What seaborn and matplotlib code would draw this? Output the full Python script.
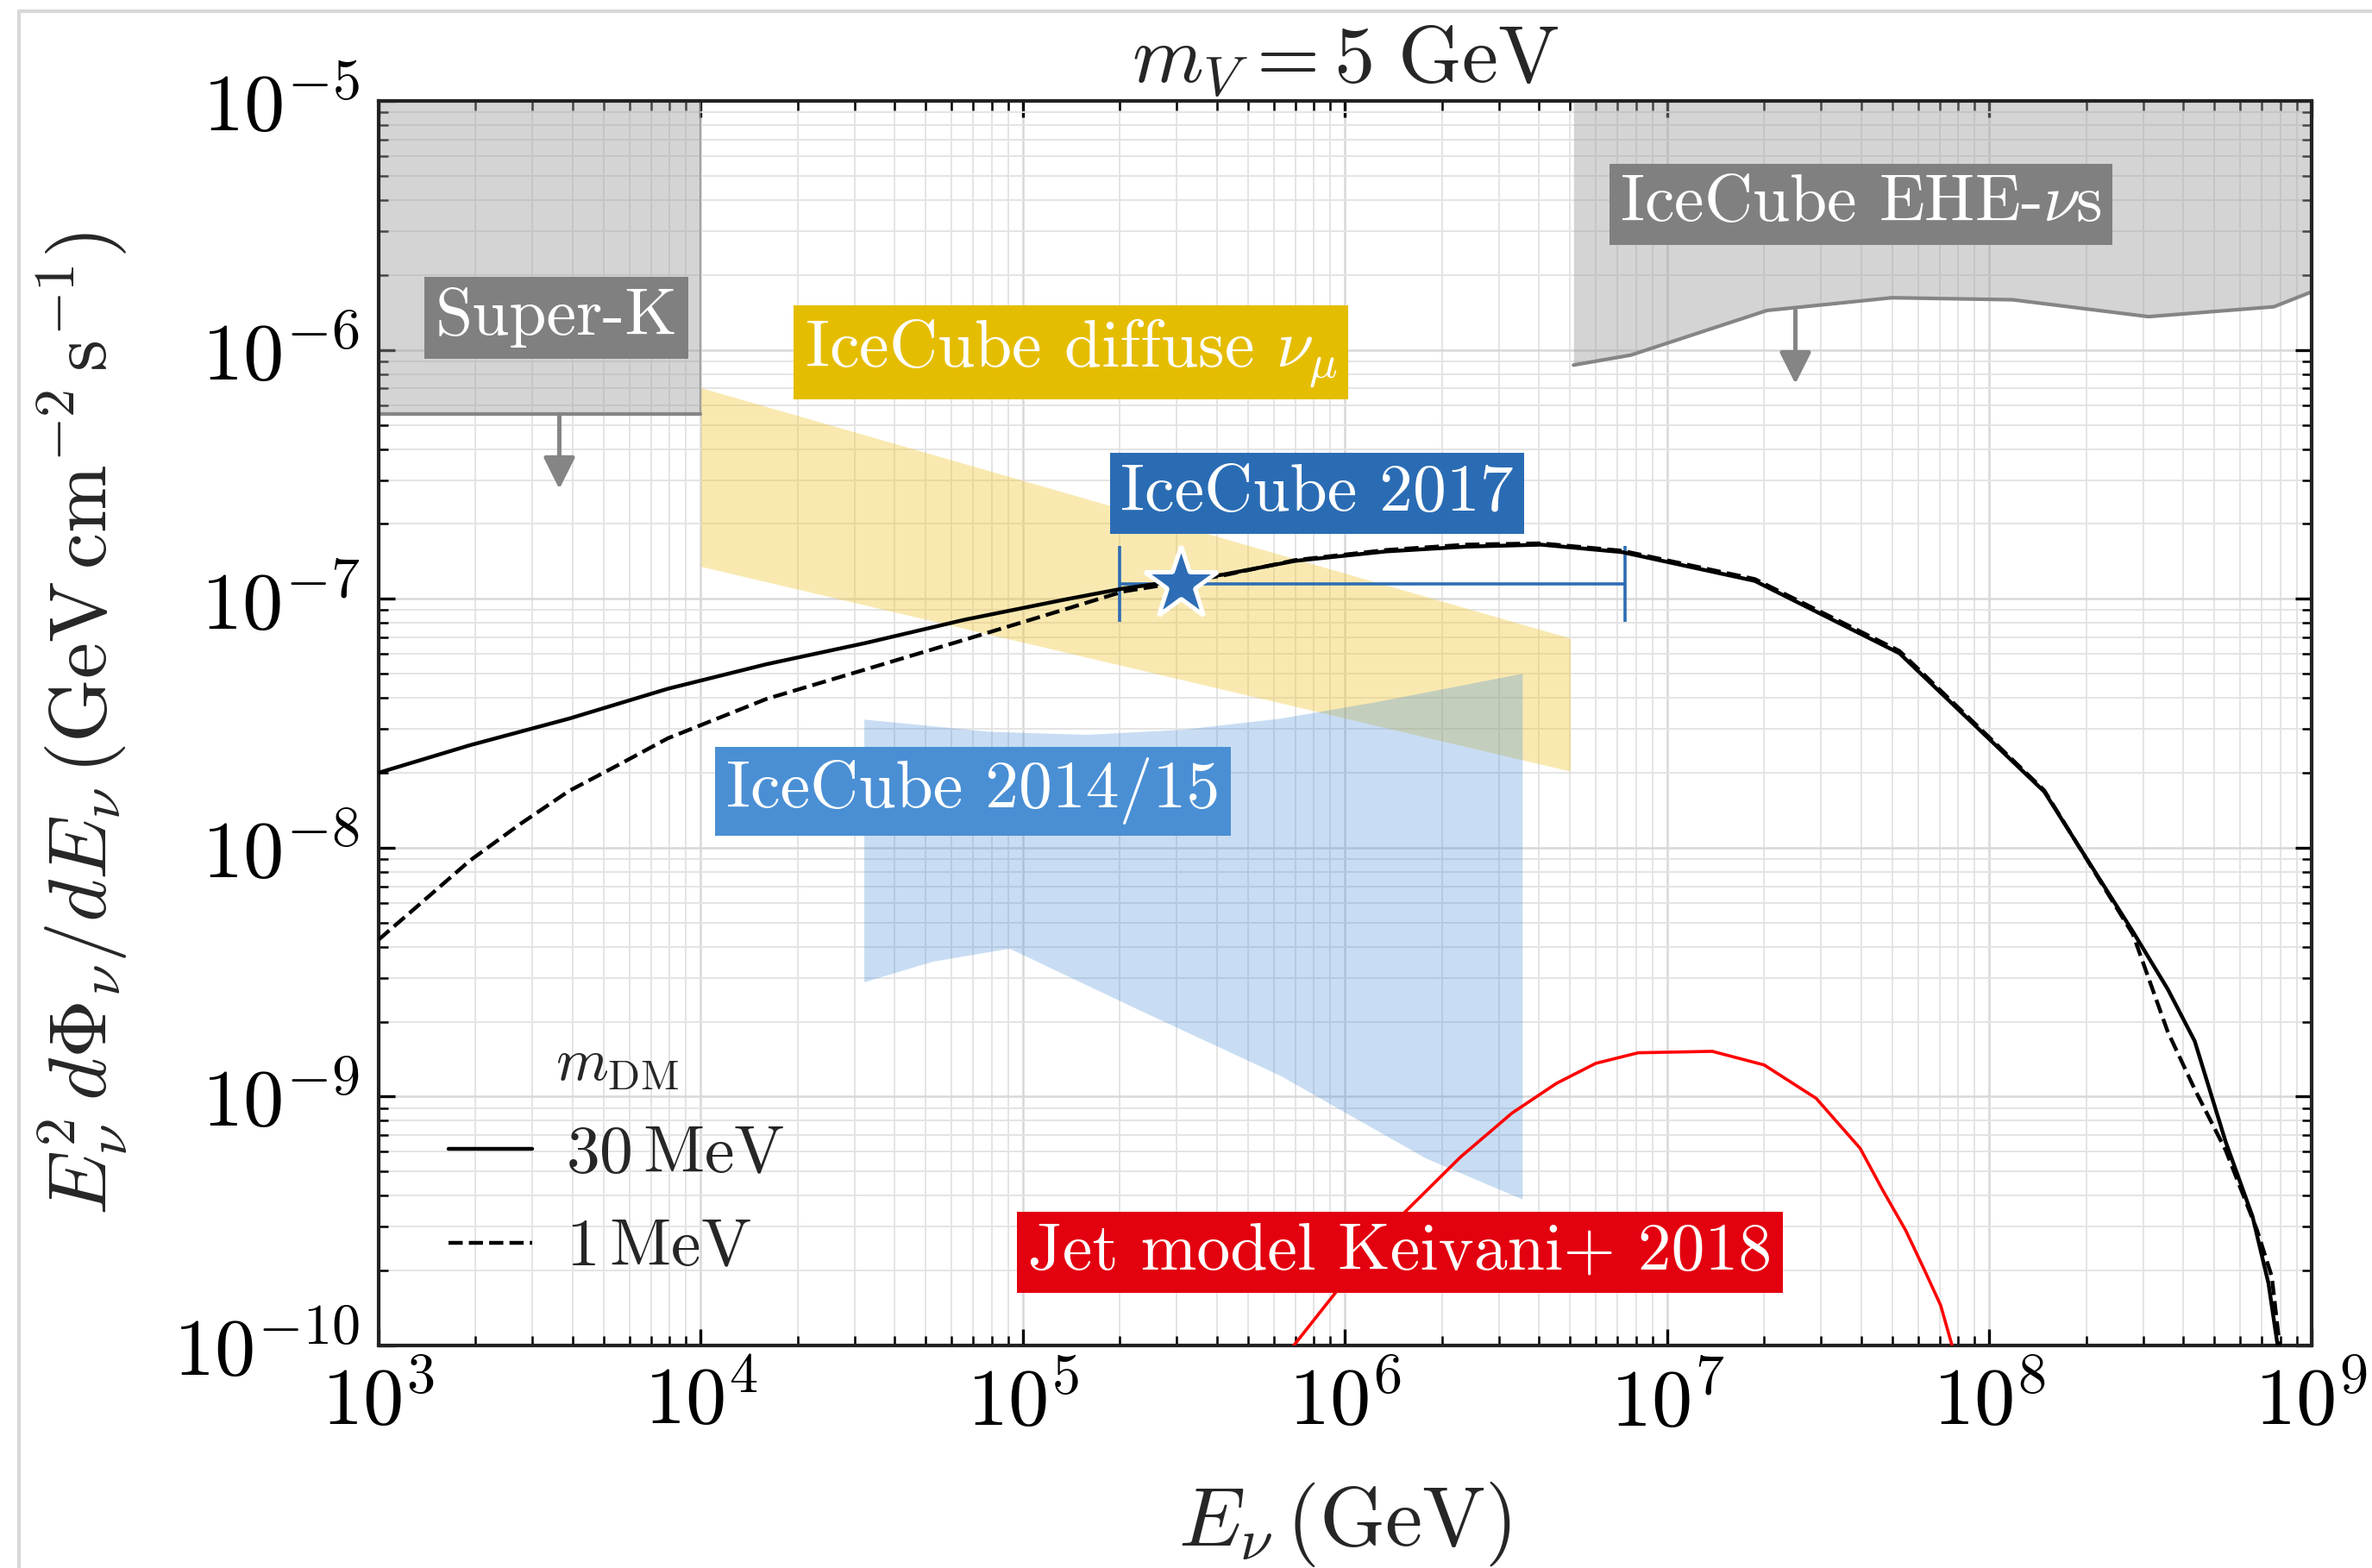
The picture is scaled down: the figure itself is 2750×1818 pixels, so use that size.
import numpy as np
import pandas as pd
import matplotlib
matplotlib.use('Agg')
import matplotlib.pyplot as plt
import seaborn as sns
from matplotlib.ticker import FuncFormatter, LogLocator
from matplotlib.lines import Line2D

# ---------------- data ----------------
# DM signal, m_DM = 30 MeV (solid)
E_30 = [1.0e3, 1.92e3, 3.9e3, 7.9e3, 1.6e4, 3.26e4, 6.6e4, 1.34e5, 2.05e5, 4.17e5,
        7.0e5, 1.34e6, 2.38e6, 4.06e6, 7.24e6, 1.87e7, 5.26e7, 1.48e8, 2.79e8,
        3.58e8, 4.34e8, 5.41e8, 6.56e8, 7.35e8, 7.85e8, 8.0e8]
F_30 = [2.0e-8, 2.58e-8, 3.30e-8, 4.35e-8, 5.46e-8, 6.65e-8, 8.24e-8, 9.91e-8, 1.10e-7,
        1.25e-7, 1.42e-7, 1.55e-7, 1.62e-7, 1.65e-7, 1.54e-7, 1.18e-7, 6.04e-8, 1.68e-8,
        4.6e-9, 2.70e-9, 1.67e-9, 6.6e-10, 3.3e-10, 1.78e-10, 1.0e-10, 8e-11]

# DM signal, m_DM = 1 MeV (dashed)
E_1 = [1.0e3, 1.35e3, 1.92e3, 2.74e3, 3.9e3, 5.55e3, 7.9e3, 1.6e4, 3.26e4, 6.6e4,
       1.34e5, 2.05e5, 4.17e5, 7.0e5, 1.34e6, 2.38e6, 4.06e6, 7.24e6, 1.87e7, 5.26e7,
       1.48e8, 2.79e8, 3.58e8, 4.34e8, 5.41e8, 6.78e8, 7.53e8, 7.96e8, 8.1e8]
F_1 = [4.27e-9, 5.97e-9, 8.87e-9, 1.24e-8, 1.69e-8, 2.15e-8, 2.75e-8, 3.96e-8, 5.21e-8,
       6.85e-8, 9.04e-8, 1.07e-7, 1.24e-7, 1.43e-7, 1.57e-7, 1.65e-7, 1.67e-7, 1.56e-7,
       1.20e-7, 6.17e-8, 1.70e-8, 4.49e-9, 1.82e-9, 1.07e-9, 6.1e-10, 2.9e-10, 1.89e-10,
       1.0e-10, 8e-11]

# Jet model Keivani+ 2018 (red)
E_jet = [6.89e5, 9.72e5, 1.49e6, 2.28e6, 3.30e6, 4.53e6, 6.0e6, 8.13e6, 1.38e7, 2.0e7,
         2.9e7, 3.97e7, 4.67e7, 5.5e7, 6.3e7, 7.06e7, 7.66e7, 8.0e7]
F_jet = [9.9e-11, 1.74e-10, 3.31e-10, 5.71e-10, 8.59e-10, 1.13e-9, 1.36e-9, 1.50e-9,
         1.52e-9, 1.34e-9, 9.84e-10, 6.2e-10, 4.2e-10, 2.9e-10, 2.0e-10, 1.45e-10,
         1.0e-10, 8e-11]

# Super-K limit (box)
SK_E = [1.0e3, 1.0e4]
SK_F = [5.52e-7, 5.52e-7]

# IceCube EHE limit (lower edge of grey region)
EHE_E = [5.12e6, 7.71e6, 2.04e7, 4.99e7, 1.18e8, 3.12e8, 7.64e8, 1.0e9]
EHE_F = [8.69e-7, 9.53e-7, 1.44e-6, 1.62e-6, 1.59e-6, 1.36e-6, 1.49e-6, 1.71e-6]

# IceCube diffuse nu_mu band
DIF_E = [1.0e4, 5.0e6]
DIF_hi = [7.05e-7, 6.95e-8]
DIF_lo = [1.35e-7, 2.03e-8]

# IceCube 2014/15 region
IC15_top_E = [3.22e4, 7.94e4, 1.58e5, 3.16e5, 6.32e5, 1.26e6, 3.56e6]
IC15_top_F = [3.27e-8, 2.92e-8, 2.84e-8, 2.98e-8, 3.30e-8, 3.85e-8, 5.0e-8]
IC15_bot_E = [3.22e4, 5.24e4, 9.1e4, 2.24e5, 6.32e5, 1.78e6, 3.56e6]
IC15_bot_F = [2.88e-9, 3.48e-9, 3.93e-9, 2.26e-9, 1.21e-9, 5.65e-10, 3.86e-10]

# IceCube 2017 (TXS 0506+056) point
IC17_E, IC17_lo, IC17_hi, IC17_F = 3.1e5, 2.0e5, 7.4e6, 1.15e-7

# ---------------- style ----------------
sns.set_theme(style='ticks')
plt.rcParams['font.family'] = 'serif'
plt.rcParams['font.serif'] = ['cmr10', 'DejaVu Serif']
plt.rcParams['mathtext.fontset'] = 'cm'
plt.rcParams['axes.formatter.use_mathtext'] = True
plt.rcParams['axes.unicode_minus'] = False

GRAY_FILL = '#a0a0a0'
GRAY_EDGE = '#858585'
YELLOW = '#f2c83c'
BLUE = '#4a90d9'

fig, ax = plt.subplots(figsize=(13.75, 9.09), dpi=200)
fig.subplots_adjust(left=0.1596, right=0.9745, top=0.9356, bottom=0.1419)
ax.set(xscale='log', yscale='log')

# limits (grey)
ax.fill_between(SK_E, SK_F, 1e-5, color=GRAY_FILL, alpha=0.45, lw=0, zorder=1)
ax.plot(SK_E, SK_F, color=GRAY_EDGE, lw=1.5, zorder=1.5)
ax.plot([SK_E[1], SK_E[1]], [SK_F[1], 1e-5], color=GRAY_EDGE, lw=0.8, alpha=0.6, zorder=1.5)
ax.fill_between(EHE_E, EHE_F, 1e-5, color=GRAY_FILL, alpha=0.45, lw=0, zorder=1)
ax.plot(EHE_E, EHE_F, color=GRAY_EDGE, lw=1.5, zorder=1.5)

arrow = dict(arrowstyle='-|>', color=GRAY_EDGE, lw=1.8, mutation_scale=28, shrinkA=0, shrinkB=0)
ax.annotate('', xy=(3.64e3, 2.76e-7), xytext=(3.64e3, SK_F[0]), arrowprops=arrow, zorder=2)
ax.annotate('', xy=(2.5e7, 7.3e-7), xytext=(2.5e7, 1.44e-6), arrowprops=arrow, zorder=2)

# IceCube bands
ax.fill_between(DIF_E, DIF_lo, DIF_hi, color=YELLOW, alpha=0.40, lw=0, zorder=1)
ax.fill(IC15_top_E + IC15_bot_E[::-1], IC15_top_F + IC15_bot_F[::-1],
        color=BLUE, alpha=0.30, lw=0, zorder=1.2)

# IceCube 2017 point
ax.errorbar(IC17_E, IC17_F, xerr=[[IC17_E - IC17_lo], [IC17_hi - IC17_E]],
            fmt='none', ecolor='#2e6db5', elinewidth=1.3, capsize=16, capthick=1.3, zorder=3)

# DM curves
sns.lineplot(x=E_30, y=F_30, color='black', lw=1.6, sort=False, estimator=None,
             label=r'$30\,\mathrm{MeV}$', ax=ax, zorder=4)
sns.lineplot(x=E_1, y=F_1, color='black', lw=1.6, linestyle='--', sort=False,
             estimator=None, label=r'$1\,\mathrm{MeV}$', ax=ax, zorder=4)
sns.lineplot(x=E_jet, y=F_jet, color='#ff0000', lw=1.3, sort=False, estimator=None,
             ax=ax, zorder=4, legend=False)

ax.plot([IC17_E], [IC17_F], marker='*', ms=32, color='#2e6db5', mec='white', mew=1.8,
        ls='none', zorder=5)

# text boxes
def tag(x, y, s, fc):
    ax.text(x, y, s, color='white', fontsize=28, ha='center', va='center', zorder=6,
            bbox=dict(boxstyle='square,pad=0.16', fc=fc, ec='none'))

tag(3.57e3, 1.35e-6, 'Super-K', '#808080')
tag(4.0e7, 3.85e-6, r'IceCube EHE-$\nu$s', '#808080')
tag(1.41e5, 9.75e-7, r'IceCube diffuse $\nu_\mu$', '#e5bd00')
tag(8.2e5, 2.65e-7, 'IceCube 2017', '#2a6cb4')
tag(7.0e4, 1.69e-8, 'IceCube 2014/15', '#4a8fd4')
tag(1.48e6, 2.36e-10, 'Jet model Keivani+ 2018', '#e3000f')

# axes
ax.set_xlim(1e3, 1e9)
ax.set_ylim(1e-10, 1e-5)
ax.xaxis.set_major_locator(LogLocator(base=10, numticks=20))
ax.yaxis.set_major_locator(LogLocator(base=10, numticks=20))
ax.xaxis.set_minor_locator(LogLocator(base=10, subs=np.arange(2, 10), numticks=20))
ax.yaxis.set_minor_locator(LogLocator(base=10, subs=np.arange(2, 10), numticks=20))
fmt = FuncFormatter(lambda v, p: r'$10^{%d}$' % round(np.log10(v)))
ax.xaxis.set_major_formatter(fmt)
ax.yaxis.set_major_formatter(fmt)
ax.tick_params(which='both', direction='in', top=True, right=True, labelsize=34,
               colors='black')
ax.tick_params(which='major', length=7, width=1.2, pad=8)
ax.tick_params(which='minor', length=4, width=0.9)
for sp in ax.spines.values():
    sp.set_linewidth(1.5)
    sp.set_color('#222222')
ax.grid(True, which='major', color='#d8d8d8', lw=0.9, zorder=0)
ax.grid(True, which='minor', color='#e4e4e4', lw=0.7, zorder=0)
ax.set_axisbelow(True)

ax.set_title(r'$m_V = 5\ \mathrm{GeV}$', fontsize=34, pad=8)
ax.set_xlabel(r'$E_\nu\,(\mathrm{GeV})$', fontsize=35)
ax.set_ylabel(r'$E_\nu^2\, d\Phi_\nu/dE_\nu\,(\mathrm{GeV\,cm^{-2}\,s^{-1}})$', fontsize=34)
ax.xaxis.set_label_coords(0.5, -0.108)
ax.yaxis.set_label_coords(-0.129, 0.5)

leg = ax.legend(title=r'$m_{\mathrm{DM}}$', loc='lower left', bbox_to_anchor=(0.005, 0.005),
                frameon=False, fontsize=28, title_fontsize=25, handlelength=1.25,
                handletextpad=0.5, labelspacing=0.5)

# screenshot-style border
fig.add_artist(Line2D([0.008, 0.008], [0, 0.993], transform=fig.transFigure,
                      color='#d8d8d8', lw=1.5))
fig.add_artist(Line2D([0.008, 1.0], [0.993, 0.993], transform=fig.transFigure,
                      color='#d8d8d8', lw=1.5))

fig.savefig('out.png', dpi=200)
